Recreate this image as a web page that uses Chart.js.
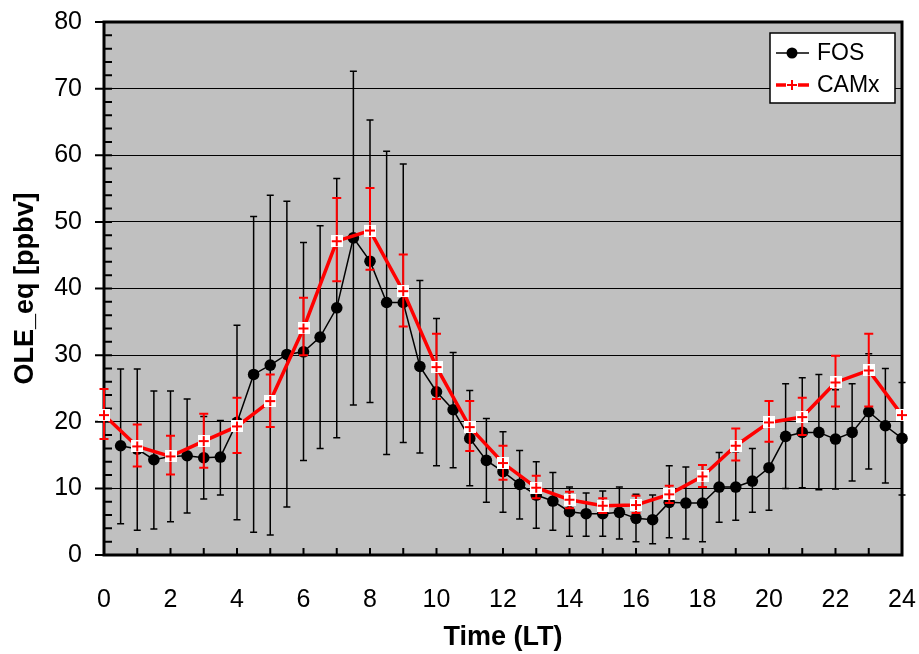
<!DOCTYPE html>
<html>
<head>
<meta charset="utf-8">
<script src="https://cdn.jsdelivr.net/npm/chart.js@4.4.0/dist/chart.umd.min.js"></script>
<style>
  body { margin: 0; background: #fff; }
  #wrap { width: 919px; height: 654px; }
</style>
</head>
<body>
<div id="wrap"><canvas id="chart" width="919" height="654"></canvas></div>
<script>
// FOS measurements (half-hourly)
const fosHours = [0.5, 1, 1.5, 2, 2.5, 3, 3.5, 4, 4.5, 5, 5.5, 6, 6.5, 7, 7.5, 8, 8.5, 9, 9.5, 10, 10.5, 11, 11.5, 12,
  12.5, 13, 13.5, 14, 14.5, 15, 15.5, 16, 16.5, 17, 17.5, 18, 18.5, 19, 19.5, 20, 20.5, 21, 21.5, 22, 22.5, 23, 23.5, 24];
const fosValues = [16.4, 15.9, 14.3, 14.8, 14.9, 14.6, 14.7, 19.9, 27.1, 28.5, 30.1, 30.5, 32.7, 37.1, 47.6, 44.1, 37.9, 37.9,
  28.3, 24.5, 21.8, 17.5, 14.2, 12.5, 10.6, 9.0, 8.1, 6.5, 6.2, 6.2, 6.4, 5.5, 5.3, 7.9, 7.8, 7.8, 10.2, 10.2, 11.1, 13.1,
  17.8, 18.4, 18.4, 17.4, 18.4, 21.5, 19.4, 17.5];
const fosHigh = [27.9, 27.9, 24.6, 24.6, 23.4, 20.8, 20.2, 34.5, 50.8, 54.0, 53.1, 46.9, 49.4, 56.5, 72.6, 65.3, 60.6, 58.7,
  41.2, 35.5, 30.4, 24.7, 20.5, 18.5, 15.7, 14.0, 12.4, 10.2, 9.3, 9.6, 10.2, 9.1, 9.0, 13.4, 13.2, 13.5, 15.4, 15.5, 16.0, 19.5,
  25.7, 26.6, 27.1, 24.8, 25.7, 30.2, 28.0, 25.9];
const fosLow = [4.7, 3.7, 3.9, 5.0, 6.3, 8.4, 9.0, 5.3, 3.4, 3.0, 7.2, 14.2, 16.0, 17.6, 22.5, 22.9, 15.1, 16.9,
  15.3, 13.4, 13.1, 10.4, 7.9, 6.4, 5.4, 4.0, 3.7, 2.8, 2.8, 2.8, 2.4, 2.0, 1.7, 2.6, 2.4, 2.0, 4.9, 5.2, 6.4, 6.7,
  10.0, 10.1, 9.8, 9.9, 11.1, 12.9, 10.8, 9.0];

// CAMx model (hourly)
const camxHours = [0, 1, 2, 3, 4, 5, 6, 7, 8, 9, 10, 11, 12, 13, 14, 15, 16, 17, 18, 19, 20, 21, 22, 23, 24];
const camxValues = [21.0, 16.3, 14.8, 17.1, 19.3, 23.1, 34.0, 47.1, 48.7, 39.6, 28.2, 19.2, 13.8, 10.1, 8.3, 7.4, 7.5,
  9.1, 11.8, 16.4, 19.9, 20.7, 25.9, 27.7, 21.0];
const camxHigh = [24.9, 19.6, 17.9, 21.2, 23.6, 27.1, 38.6, 53.6, 55.1, 45.1, 33.2, 23.1, 16.4, 11.9, 9.5, 8.5, 8.9,
  10.4, 13.5, 19.0, 23.1, 23.6, 29.9, 33.2, 21.0];
const camxLow = [17.4, 13.3, 12.1, 13.1, 15.3, 19.2, 30.0, 41.1, 42.8, 34.3, 23.4, 15.6, 11.3, 8.5, 7.0, 6.3, 6.3,
  7.8, 10.2, 14.2, 17.0, 18.0, 22.3, 22.3, 21.0];

// axis ticks
const yTicks = [0, 10, 20, 30, 40, 50, 60, 70, 80];
const yMinorTicks = [2, 4, 6, 8, 12, 14, 16, 18, 22, 24, 26, 28, 32, 34, 36, 38, 42, 44, 46, 48, 52, 54, 56, 58,
  62, 64, 66, 68, 72, 74, 76, 78];
const xMinorTicks = [1, 2, 3, 4, 5, 6, 7, 8, 9, 10, 11, 12, 13, 14, 15, 16, 17, 18, 19, 20, 21, 22, 23];

Chart.defaults.font.family = '"Liberation Sans", Arial, sans-serif';
Chart.defaults.color = '#000';

// white square with red cross
function camxMarker() {
  const c = document.createElement('canvas');
  c.width = 12; c.height = 12;
  const g = c.getContext('2d');
  g.fillStyle = '#fff';
  g.fillRect(0, 0, 12, 12);
  g.fillStyle = '#ff0000';
  g.fillRect(1, 5, 10, 2);
  g.fillRect(5, 1, 2, 10);
  return c;
}
const camxPoint = camxMarker();

const plotDeco = {
  id: 'plotDeco',
  beforeDraw(chart) {
    const {ctx, chartArea: a} = chart;
    ctx.save();
    ctx.fillStyle = '#c0c0c0';
    ctx.fillRect(a.left, a.top, a.right - a.left, a.bottom - a.top);
    ctx.restore();
  },
  beforeDatasetsDraw(chart) {
    const {ctx, chartArea: a, scales: {x, y}} = chart;
    ctx.save();
    ctx.strokeStyle = '#000';
    ctx.lineWidth = 2;
    ctx.beginPath();
    yMinorTicks.concat(yTicks).forEach(v => {
      const py = y.getPixelForValue(v);
      ctx.moveTo(a.left, py); ctx.lineTo(a.left + 8, py);
    });
    yTicks.forEach(v => {
      const py = y.getPixelForValue(v);
      ctx.moveTo(a.left - 9, py); ctx.lineTo(a.left, py);
    });
    xMinorTicks.forEach(v => {
      const px = x.getPixelForValue(v);
      ctx.moveTo(px, a.bottom); ctx.lineTo(px, a.bottom - 7);
    });
    ctx.stroke();
    ctx.lineWidth = 3;
    ctx.strokeRect(a.left, a.top, a.right - a.left, a.bottom - a.top);
    ctx.restore();
  },
  beforeDatasetDraw(chart, args) {
    const ds = chart.data.datasets[args.index];
    if (!ds.errLow) return;
    const {ctx, scales: {x, y}} = chart;
    ctx.save();
    ctx.strokeStyle = ds.errColor;
    ctx.lineWidth = ds.errWidth;
    ctx.beginPath();
    ds.data.forEach((p, i) => {
      const px = x.getPixelForValue(p.x);
      const hi = y.getPixelForValue(ds.errHigh[i]);
      const lo = y.getPixelForValue(ds.errLow[i]);
      if (Math.abs(hi - lo) < 1) return;
      ctx.moveTo(px, hi); ctx.lineTo(px, lo);
      ctx.moveTo(px - ds.errCap, hi); ctx.lineTo(px + ds.errCap, hi);
      ctx.moveTo(px - ds.errCap, lo); ctx.lineTo(px + ds.errCap, lo);
    });
    ctx.stroke();
    ctx.restore();
  },
  afterDraw(chart) {
    const ctx = chart.ctx;
    ctx.save();
    // legend box
    ctx.fillStyle = '#fff';
    ctx.fillRect(770, 33, 125, 70);
    ctx.strokeStyle = '#000';
    ctx.lineWidth = 1.5;
    ctx.strokeRect(770, 33, 125, 70);
    // FOS entry
    ctx.lineWidth = 1.5;
    ctx.beginPath(); ctx.moveTo(776, 53); ctx.lineTo(809, 53); ctx.stroke();
    ctx.fillStyle = '#000';
    ctx.beginPath(); ctx.arc(792, 53, 5.5, 0, Math.PI * 2); ctx.fill();
    // CAMx entry
    ctx.strokeStyle = '#ff0000';
    ctx.lineWidth = 3.5;
    ctx.beginPath(); ctx.moveTo(776, 85); ctx.lineTo(809, 85); ctx.stroke();
    ctx.drawImage(camxPoint, 786, 79);
    ctx.fillStyle = '#000';
    ctx.font = '23px "Liberation Sans", Arial, sans-serif';
    ctx.textBaseline = 'middle';
    ctx.fillText('FOS', 817, 54);
    ctx.fillText('CAMx', 817, 86);
    ctx.restore();
  }
};

const ctx = document.getElementById('chart').getContext('2d');
const chart = new Chart(ctx, {
  type: 'line',
  data: {
    datasets: [{
      label: 'CAMx',
      data: camxHours.map((h, i) => ({x: h, y: camxValues[i]})),
      borderColor: '#ff0000',
      borderWidth: 3.5,
      pointStyle: camxPoint,
      pointRadius: 6,
      tension: 0,
      clip: false,
      order: 0,
      errLow: camxLow, errHigh: camxHigh, errColor: '#ff0000', errWidth: 2, errCap: 4.5
    }, {
      label: 'FOS',
      data: fosHours.map((h, i) => ({x: h, y: fosValues[i]})),
      borderColor: '#000',
      borderWidth: 1.5,
      pointStyle: 'circle',
      pointRadius: 5.8,
      pointBackgroundColor: '#000',
      pointBorderColor: '#000',
      pointBorderWidth: 0,
      tension: 0,
      clip: false,
      order: 1,
      errLow: fosLow, errHigh: fosHigh, errColor: '#000', errWidth: 1.5, errCap: 3.5
    }]
  },
  options: {
    responsive: false,
    animation: false,
    layout: { padding: { top: 22, right: 17, left: 0, bottom: 0 } },
    plugins: { legend: { display: false }, tooltip: { enabled: false } },
    scales: {
      x: {
        type: 'linear',
        min: 0, max: 24,
        grid: { display: false },
        border: { display: false },
        ticks: { stepSize: 2, padding: 22, font: { size: 25 }, maxRotation: 0 },
        title: { display: true, text: 'Time (LT)', font: { size: 27, weight: 'bold' }, padding: { top: 0, bottom: 0 } },
        afterFit(scale) {
          scale.height = 99;
          scale.paddingLeft = 0;
          scale.paddingRight = 0;
        }
      },
      y: {
        min: 0, max: 80,
        grid: { color: '#000', lineWidth: 1, drawTicks: false },
        border: { display: false },
        ticks: { stepSize: 10, padding: 22, font: { size: 25 } },
        title: { display: true, text: 'OLE_eq [ppbv]', font: { size: 27, weight: 'bold' }, padding: { top: 9, bottom: 0 } },
        afterFit(scale) {
          scale.width = 104;
          scale.paddingTop = 0;
          scale.paddingBottom = 0;
        }
      }
    }
  },
  plugins: [plotDeco]
});
</script>
</body>
</html>
